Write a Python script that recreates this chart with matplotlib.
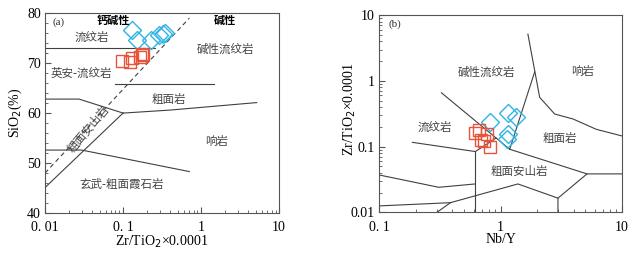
import numpy as np
import matplotlib.pyplot as plt

plt.rcParams['font.family'] = ['Liberation Serif', 'Noto Sans CJK SC']

# panel (a): Zr/TiO2 vs SiO2
a_blue_x = [0.129, 0.152, 0.226, 0.292, 0.323, 0.348]
a_blue_y = [76.6, 74.7, 74.7, 75.6, 75.9, 76.1]
a_red_x = [0.096, 0.123, 0.129, 0.174, 0.179, 0.165]
a_red_y = [70.4, 70.3, 71.1, 71.9, 71.6, 71.3]

# panel (b): Nb/Y vs Zr/TiO2
b_blue_x = [0.815, 1.15, 1.35, 1.15, 1.14]
b_blue_y = [0.233, 0.327, 0.284, 0.153, 0.129]
b_red_x = [0.612, 0.665, 0.774, 0.695, 0.726, 0.815]
b_red_y = [0.163, 0.178, 0.155, 0.126, 0.121, 0.0973]

# field boundaries
a_lines = [
    ([0.01, 0.257], [73, 73]),
    ([0.079, 1.48], [65.9, 65.9]),
    ([0.01, 0.0273, 0.1], [62.8, 62.8, 60]),
    ([0.1, 0.4, 5.17], [60, 60.6, 62.1]),
    ([0.01, 0.1], [45.1, 60]),
    ([0.01, 0.0295, 0.707], [52.6, 52.6, 48.3]),
]
a_dash = ([0.01, 0.707], [48, 79])

b_lines = [
    ([0.188, 0.62], [0.116, 0.084]),
    ([0.62, 0.62], [0.084, 0.01]),
    ([0.62, 0.92], [0.084, 0.135]),
    ([0.326, 1.19], [0.659, 0.091]),
    ([1.19, 1.91], [0.091, 1.37]),
    ([1.68, 2.10, 2.79, 3.95, 6.15, 10], [5.14, 0.561, 0.313, 0.263, 0.183, 0.145]),
    ([1.19, 5.15, 10], [0.091, 0.0384, 0.0384]),
    ([5.15, 2.97, 2.97], [0.0384, 0.0164, 0.01]),
    ([0.1, 0.31, 0.62], [0.037, 0.024, 0.027]),
    ([0.1, 0.387], [0.0125, 0.014]),
    ([0.30, 0.387, 1.39, 2.97], [0.01, 0.014, 0.027, 0.0164]),
]

line_c = '#404040'
blue = '#2fb4e6'
red = '#e8533a'
cjk = ['Noto Sans CJK SC']

fig = plt.figure(figsize=(6.36, 2.57), dpi=100)
ax1 = fig.add_axes([0.0708, 0.171, 0.368, 0.778])
ax2 = fig.add_axes([0.596, 0.174, 0.382, 0.767])

# ---- (a)
ax1.set_xscale('log')
ax1.set_xlim(0.01, 10)
ax1.set_ylim(40, 80)
for xs, ys in a_lines:
    ax1.plot(xs, ys, color=line_c, lw=0.8)
ax1.plot(a_dash[0], a_dash[1], color=line_c, lw=0.8, ls=(0, (4, 3)))
ax1.plot(a_blue_x, a_blue_y, 'D', ms=9, mfc='none', mec=blue, mew=1.0)
ax1.plot(a_red_x, a_red_y, 's', ms=8, mfc='none', mec=red, mew=1.0)

ax1.text(0.03, 0.955, '(a)', transform=ax1.transAxes, fontsize=8, color='#333333', va='center')
ax1.text(0.075, 78.5, '钙碱性', family=cjk, fontsize=8, fontweight='bold', ha='center', va='center')
ax1.text(2.03, 78.5, '碱性', family=cjk, fontsize=8, fontweight='bold', ha='center', va='center')
tk = dict(family=cjk, fontsize=8.3, color='#444444', ha='center', va='center')
ax1.text(0.04, 75.1, '流纹岩', **tk)
ax1.text(2.03, 72.7, '碱性流纹岩', **tk)
ax1.text(0.0295, 67.9, '英安-流纹岩', **tk)
ax1.text(0.381, 62.8, '粗面岩', **tk)
ax1.text(0.036, 56.9, '粗面安山岩', rotation=50, **tk)
ax1.text(1.58, 54.3, '响岩', **tk)
ax1.text(0.096, 45.7, '玄武-粗面霞石岩', **tk)

ax1.set_xticks([0.01, 0.1, 1, 10], ['0. 01', '0. 1', '1', '10'])
ax1.set_yticks([40, 50, 60, 70, 80])
ax1.set_yticks(np.arange(40, 80, 2), minor=True)
ax1.set_xlabel('Zr/TiO$_2$×0.0001', fontsize=10)
ax1.set_ylabel('SiO$_2$(%)', fontsize=10)
ax1.xaxis.set_label_coords(0.5, -0.145, transform=ax1.transAxes)
ax1.yaxis.set_label_coords(-0.128, 0.5, transform=ax1.transAxes)
ax1.xaxis.label.set_va('center')
ax1.yaxis.label.set_va('center')

# ---- (b)
ax2.set_xscale('log')
ax2.set_yscale('log')
ax2.set_xlim(0.1, 10)
ax2.set_ylim(0.01, 10)
for xs, ys in b_lines:
    ax2.plot(xs, ys, color=line_c, lw=0.8)
ax2.plot(b_blue_x, b_blue_y, 'D', ms=9, mfc='none', mec=blue, mew=1.0)
ax2.plot(b_red_x, b_red_y, 's', ms=8, mfc='none', mec=red, mew=1.0)

ax2.text(0.04, 0.955, '(b)', transform=ax2.transAxes, fontsize=8, color='#333333', va='center')
ax2.text(0.763, 1.37, '碱性流纹岩', **tk)
ax2.text(4.77, 1.37, '响岩', **tk)
ax2.text(0.287, 0.194, '流纹岩', **tk)
ax2.text(3.07, 0.133, '粗面岩', **tk)
ax2.text(1.44, 0.0415, '粗面安山岩', **tk)

ax2.set_xticks([0.1, 1, 10], ['0. 1', '1', '10'])
ax2.set_yticks([0.01, 0.1, 1, 10], ['0.01', '0.1', '1', '10'])
ax2.set_xlabel('Nb/Y', fontsize=10)
ax2.set_ylabel('Zr/TiO$_2$×0.0001', fontsize=10)
ax2.xaxis.set_label_coords(0.5, -0.14, transform=ax2.transAxes)
ax2.yaxis.set_label_coords(-0.12, 0.52, transform=ax2.transAxes)
ax2.xaxis.label.set_va('center')
ax2.yaxis.label.set_va('center')

for ax in (ax1, ax2):
    for s in ax.spines.values():
        s.set_color('#555555')
        s.set_linewidth(0.8)
    ax.tick_params(which='both', direction='in', top=False, right=False,
                   labelsize=10, color='#555555')
    ax.tick_params(which='major', length=4)
    ax.tick_params(which='minor', length=2)
    ax.tick_params(axis='x', pad=6)
    ax.tick_params(axis='y', pad=3)

fig.savefig('out.png', dpi=100)
